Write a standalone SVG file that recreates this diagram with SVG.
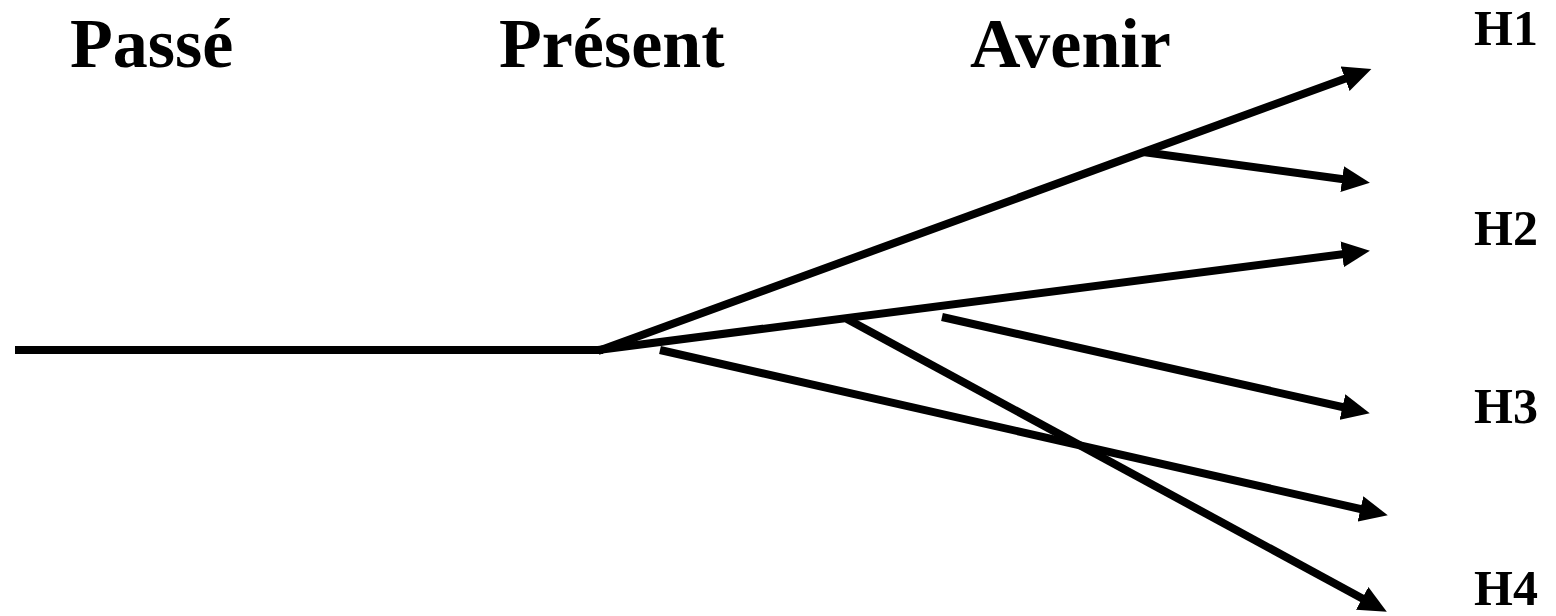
<svg xmlns="http://www.w3.org/2000/svg" width="1556" height="616" viewBox="0 0 1556 616">
<style>
.t{font-family:"Liberation Serif","Times New Roman",serif;font-weight:bold;fill:#000}
.h{font-size:70px}
.l{font-size:50px}
.c{stroke:#000;stroke-width:8;fill:none;stroke-linecap:butt}
</style>
<defs>
<marker id="ah" markerUnits="userSpaceOnUse" markerWidth="28" markerHeight="26" viewBox="0 0 28 26" refX="18" refY="13" orient="auto">
<path d="M0,0 L28,13 L0,26 Z" fill="#000"/>
</marker>
</defs>
<rect width="1556" height="616" fill="#fff"/>
<g id="labels">
<text id="passe" class="t h" x="70" y="67">Passé</text>
<text id="present" class="t h" x="499" y="67">Présent</text>
<text id="avenir" class="t h" x="970" y="67">Avenir</text>
</g>
<g id="h1"><text class="t l" x="1474" y="45">H1</text></g>
<g id="h2"><text class="t l" x="1474" y="245">H2</text></g>
<g id="h3"><text class="t l" x="1474" y="423">H3</text></g>
<g id="h4"><text class="t l" x="1474" y="605">H4</text></g>
<g id="connectors">
<line class="c" x1="15" y1="350" x2="603" y2="350"/>
<line class="c" x1="598" y1="351" x2="1362" y2="72.5" marker-end="url(#ah)"/>
<line class="c" x1="1143" y1="152" x2="1360" y2="181.5" marker-end="url(#ah)"/>
<line class="c" x1="598" y1="350" x2="1360" y2="252" marker-end="url(#ah)"/>
<line class="c" x1="847" y1="319" x2="1378" y2="607" marker-end="url(#ah)"/>
<line class="c" x1="942" y1="317" x2="1360" y2="411" marker-end="url(#ah)"/>
<line class="c" x1="660" y1="350" x2="1378" y2="513" marker-end="url(#ah)"/>
</g>
</svg>
